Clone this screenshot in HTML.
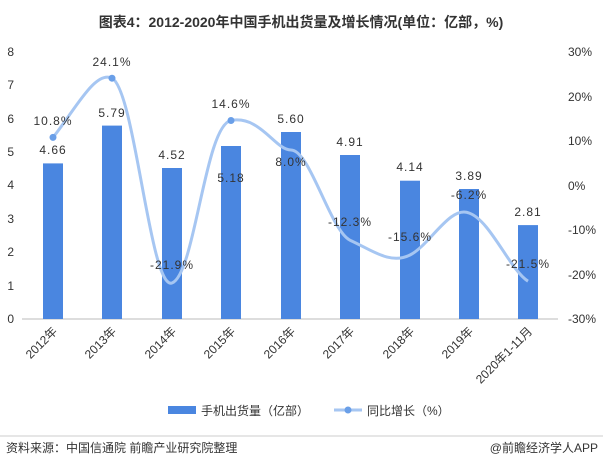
<!DOCTYPE html>
<html><head><meta charset="utf-8"><style>
body{margin:0;background:#fff;}
svg{display:block;font-family:"Liberation Sans","Noto Sans CJK SC",sans-serif;}
</style></head><body>
<svg width="603" height="467" viewBox="0 0 603 467" xmlns="http://www.w3.org/2000/svg">
<text x="301" y="27" text-anchor="middle" font-size="14" font-weight="bold" fill="#333">图表4：2012-2020年中国手机出货量及增长情况(单位：亿部，%)</text>
<line x1="22" y1="319" x2="558" y2="319" stroke="#bbb" stroke-width="1"/>
<g font-size="12" fill="#333" text-anchor="end">
<text x="14" y="323">0</text><text x="14" y="290">1</text><text x="14" y="256">2</text><text x="14" y="223">3</text><text x="14" y="189">4</text><text x="14" y="156">5</text><text x="14" y="123">6</text><text x="14" y="89">7</text><text x="14" y="56">8</text>
</g>
<g font-size="12" fill="#333" text-anchor="start">
<text x="568" y="56">30%</text><text x="568" y="101">20%</text><text x="568" y="145">10%</text><text x="568" y="190">0%</text><text x="568" y="234">-10%</text><text x="568" y="279">-20%</text><text x="568" y="323">-30%</text>
</g>
<g fill="#4a86e0">
<rect x="43" y="163.4" width="20" height="155.6"/>
<rect x="102" y="125.6" width="20" height="193.4"/>
<rect x="162" y="168" width="20" height="151"/>
<rect x="221" y="146" width="20" height="173"/>
<rect x="281" y="132" width="20" height="187"/>
<rect x="340" y="155" width="20" height="164"/>
<rect x="400" y="180.7" width="20" height="138.3"/>
<rect x="459" y="189" width="20" height="130"/>
<rect x="518" y="225.1" width="20" height="93.9"/>
</g>
<path d="M53,137.4 C75,110 95,70 112,78.2 C135,90 150,290 172,283 C195,275 205,125 231,120.5 C260,115 275,150 291,150 C310,150 330,230 350,240.2 C372,250 390,265 410,255 C430,245 450,205 469,213 C490,220 510,270 528,281.2" fill="none" stroke="#a6c6f2" stroke-width="3"/>
<g fill="#6a9fe8"><circle cx="53" cy="137.4" r="3.5"/><circle cx="112" cy="78.2" r="3.5"/><circle cx="231" cy="120.5" r="3.5"/></g>
<g font-size="12" fill="#333" text-anchor="middle" letter-spacing="1">
<text x="53" y="154">4.66</text><text x="112" y="117">5.79</text><text x="172" y="159">4.52</text><text x="231" y="182">5.18</text><text x="291" y="123">5.60</text><text x="350" y="146">4.91</text><text x="410" y="171">4.14</text><text x="469" y="180">3.89</text><text x="528" y="216">2.81</text>
<text x="53" y="125">10.8%</text><text x="112" y="66">24.1%</text><text x="172" y="269">-21.9%</text><text x="231" y="108">14.6%</text><text x="291" y="166">8.0%</text><text x="350" y="226">-12.3%</text><text x="410" y="241">-15.6%</text><text x="469" y="199">-6.2%</text><text x="528" y="268">-21.5%</text>
</g>
<g font-size="12" fill="#333" text-anchor="end">
<text transform="translate(58,332) rotate(-45)">2012年</text>
<text transform="translate(117,332) rotate(-45)">2013年</text>
<text transform="translate(177,332) rotate(-45)">2014年</text>
<text transform="translate(236,332) rotate(-45)">2015年</text>
<text transform="translate(296,332) rotate(-45)">2016年</text>
<text transform="translate(355,332) rotate(-45)">2017年</text>
<text transform="translate(415,332) rotate(-45)">2018年</text>
<text transform="translate(474,332) rotate(-45)">2019年</text>
<text transform="translate(533,332) rotate(-45)">2020年1-11月</text>
</g>
<rect x="168" y="406" width="28" height="8" fill="#4a86e0"/>
<text x="201" y="415" font-size="12" fill="#333">手机出货量（亿部）</text>
<line x1="334" y1="410" x2="362" y2="410" stroke="#a6c6f2" stroke-width="3"/>
<circle cx="348" cy="410" r="3.5" fill="#6a9fe8"/>
<text x="367" y="415" font-size="12" fill="#333">同比增长（%）</text>
<line x1="0" y1="436" x2="603" y2="436" stroke="#ccc"/>
<text x="6" y="452" font-size="12" fill="#333">资料来源：中国信通院 前瞻产业研究院整理</text>
<text x="598" y="452" font-size="12" fill="#333" text-anchor="end">@前瞻经济学人APP</text>
</svg>
</body></html>
